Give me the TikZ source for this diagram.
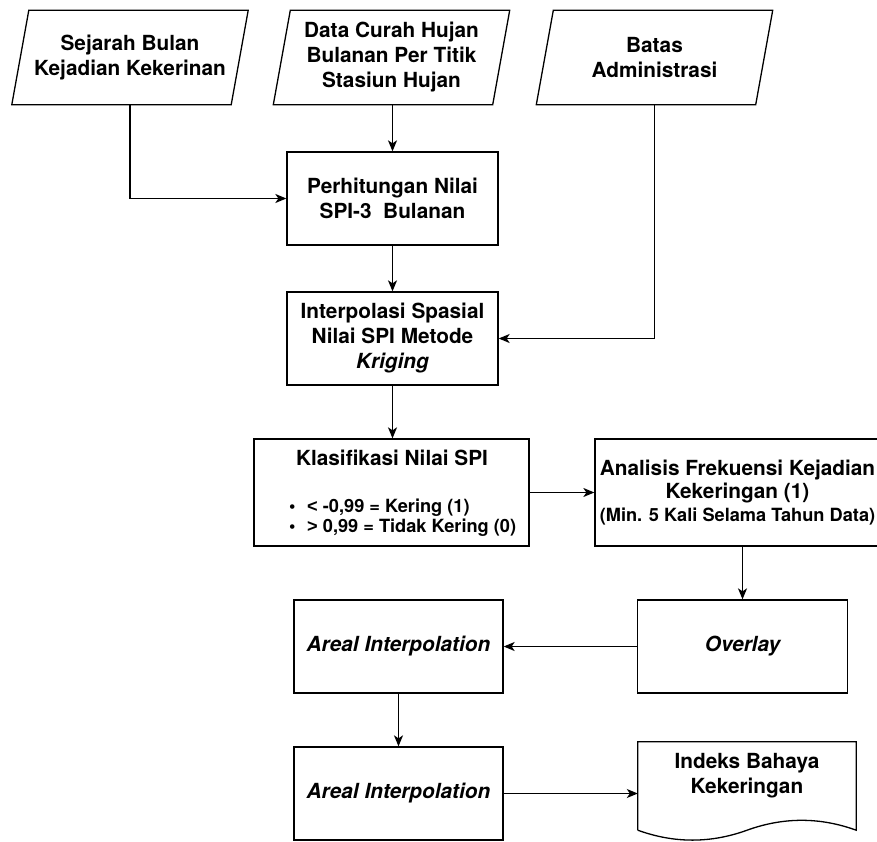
\documentclass[tikz,border=0pt]{standalone}
\usepackage{fontspec}
\setmainfont{TeX Gyre Heros}
\newfontfamily\relfont{Liberation Sans}
\usetikzlibrary{arrows.meta,calc}
\begin{document}
\begin{tikzpicture}[x=1pt,y=-1pt,
  every node/.style={inner sep=0pt, align=center,
    font=\bfseries\fontsize{20.8}{25}\selectfont},
  line/.style={line width=1.3pt, draw=black},
  arr/.style={line, -{Stealth[length=11pt,width=9pt,inset=3pt]}},
  box/.style={draw, line width=1.3pt, minimum width=#1, minimum height=93},
  box/.default=211,
  para/.style={minimum width=219, minimum height=94},
  docshape/.style={minimum width=218, minimum height=88},
  small/.style={font=\bfseries\fontsize{18.2}{20}\selectfont},
  slant/.style={xshift=8.5pt}, unslant/.style={xshift=-8.5pt}
]
\useasboundingbox (0,0) rectangle (877,842);
\clip (0,0) rectangle (877,842);

% input data (parallelograms)
\node[para] (s1) at (130,57.5) {Sejarah Bulan\\Kejadian Kekerinan};
\node[para] (s2) at (391.5,57.5) {Data Curah Hujan\\Bulanan Per Titik\\Stasiun Hujan};
\node[para] (s3) at (654.5,57.5) {Batas\\Administrasi};
\foreach \p in {s1,s2,s3}
  \draw[line] ([slant]\p.north west) -- ([slant]\p.north east)
    -- ([unslant]\p.south east) -- ([unslant]\p.south west) -- cycle;

% processing steps
\node[box] (perh) at (392.5,198.5) {Perhitungan Nilai\\SPI-3\ \ Bulanan};
\node[box] (interp) at (392.5,338.5) {Interpolasi Spasial\\Nilai SPI Metode\\\itshape Kriging};

\node[box=275, minimum height=107] (klas) at (391.5,492.5) {};
\node (klastitle) at (392,458) {Klasifikasi Nilai SPI};
\node[small, anchor=west, align=left] (klaslist) at (289,518)
  {\makebox[18pt][l]{•}{\relfont <} -0,99 = Kering (1)\\\makebox[18pt][l]{•}{\relfont >} 0,99 = Tidak Kering (0)};

\node[box=285, minimum height=107, font=\bfseries\fontsize{20.8}{23}\selectfont] (anal) at (737.5,492.5)
  {Analisis Frekuensi Kejadian\\Kekeringan (1)\\{\fontsize{18.2}{20}\selectfont (Min. 5 Kali Selama Tahun Data)}};

\node[box=209, font=\bfseries\itshape\fontsize{20.8}{25}\selectfont] (areal1) at (398.5,646.5) {Areal Interpolation};
\node[box=210, font=\bfseries\itshape\fontsize{20.8}{25}\selectfont] (over) at (742.5,646.5) {Overlay};
\node[box=209, font=\bfseries\itshape\fontsize{20.8}{25}\selectfont] (areal2) at (398.5,793.5) {Areal Interpolation};

% output document
\node[docshape] (doc) at (747,786) {};
\node[yshift=10pt] (doctext) at (doc.center) {Indeks Bahaya\\Kekeringan};
\draw[line] (doc.south west) -- (doc.north west) -- (doc.north east) -- (doc.south east)
  .. controls ($(doc.south east)+(-36.3,-13.2)$) and ($(doc.south east)+(-72.7,-13.2)$) .. (doc.south)
  .. controls ($(doc.south)+(-36.3,13.2)$) and ($(doc.south west)+(36.3,13.2)$) .. (doc.south west);

% connectors
\draw[arr] (s1.south) |- (perh.west);
\draw[arr] (s2.south -| perh.north) -- (perh.north);
\draw[arr] (s3.south) |- (interp.east);
\draw[arr] (perh.south) -- (interp.north);
\draw[arr] (interp.south) -- (interp.south |- klas.north);
\draw[arr] (klas.east) -- (anal.west);
\draw[arr] (anal.south -| over.north) -- (over.north);
\draw[arr] (over.west) -- (areal1.east);
\draw[arr] (areal1.south) -- (areal2.north);
\draw[arr] (areal2.east) -- (areal2.east -| doc.west);
\end{tikzpicture}
\end{document}
